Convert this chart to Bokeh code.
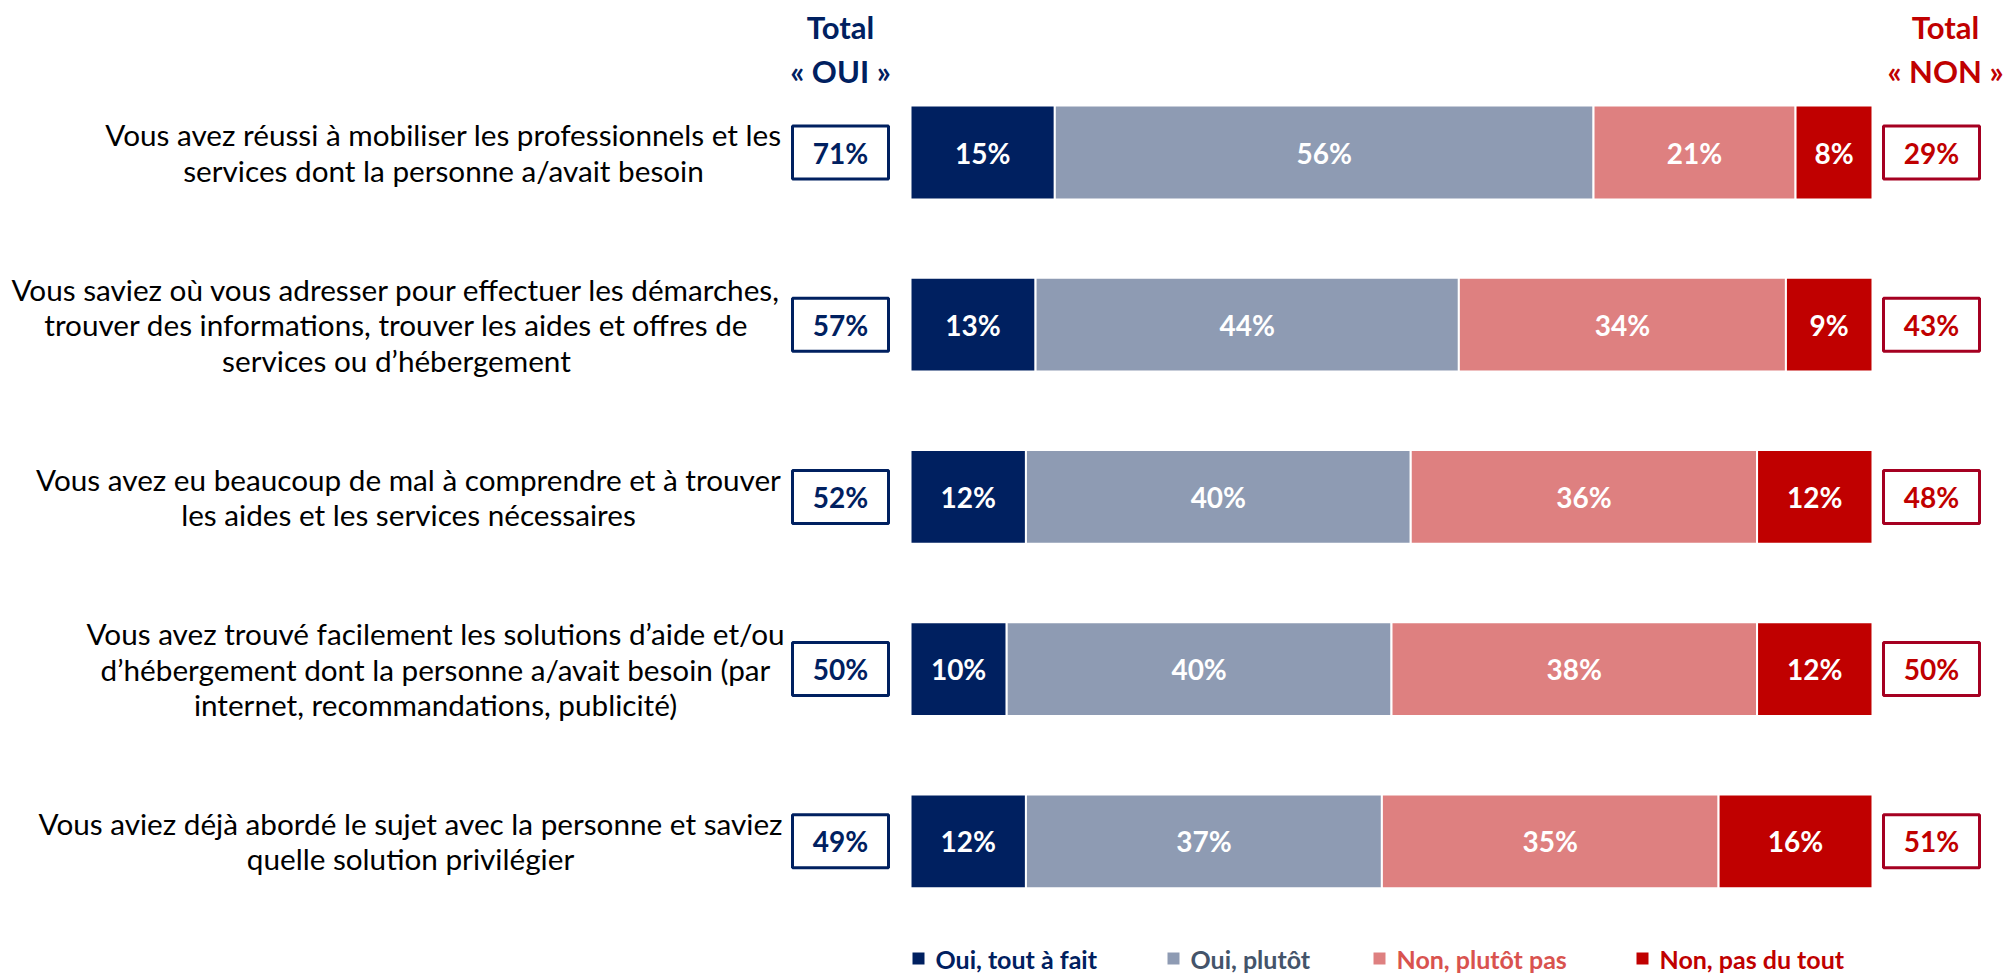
from bokeh.plotting import figure
from bokeh.models import Range1d, ColumnDataSource
from bokeh.core.properties import value
from bokeh.embed import file_html
from bokeh.resources import INLINE

questions = [
    "Vous avez réussi à mobiliser les professionnels et les\nservices dont la personne a/avait besoin",
    "Vous saviez où vous adresser pour effectuer les démarches,\ntrouver des informations, trouver les aides et offres de\nservices ou d\u2019hébergement",
    "Vous avez eu beaucoup de mal à comprendre et à trouver\nles aides et les services nécessaires",
    "Vous avez trouvé facilement les solutions d\u2019aide et/ou\nd\u2019hébergement dont la personne a/avait besoin (par\ninternet, recommandations, publicité)",
    "Vous aviez déjà abordé le sujet avec la personne et saviez\nquelle solution privilégier",
]
series_names = ["Oui, tout à fait", "Oui, plutôt", "Non, plutôt pas", "Non, pas du tout"]
oui_tout = [15, 13, 12, 10, 12]
oui_plutot = [56, 44, 40, 40, 37]
non_plutot = [21, 34, 36, 38, 35]
non_pas = [8, 9, 12, 12, 16]
total_oui = [71, 57, 52, 50, 49]
total_non = [29, 43, 48, 50, 51]

colors = ["#002060", "#8E9BB3", "#DE8080", "#C00000"]
legend_text_colors = ["#002060", "#44546A", "#D9534F", "#C00000"]
NAVY = "#002060"
RED = "#C00000"
FONT = "Lato"

W, H = 2011, 974
# page px -> data mapping: bar 0..100 spans page x 910..1872
px_per_unit = (1872 - 910) / 100.0
x0 = (0 - 910) / px_per_unit
x1 = (W - 910) / px_per_unit
row_px = 172.2
y_top = (0 - 152) / row_px
y_bot = (H - 152) / row_px

p = figure(width=W, height=H, output_backend="svg", toolbar_location=None,
           x_range=Range1d(x0, x1), y_range=Range1d(y_bot, y_top),
           min_border=0, outline_line_color=None)
p.axis.visible = False
p.grid.visible = False
p.background_fill_color = "white"
p.border_fill_color = "white"

rows = list(range(len(questions)))
series = [oui_tout, oui_plutot, non_plutot, non_pas]
left = [0.0] * len(rows)
for vals, col in zip(series, colors):
    right = [l + v for l, v in zip(left, vals)]
    src = ColumnDataSource(dict(y=rows, left=left, right=right,
                                mid=[(l + r) / 2 for l, r in zip(left, right)],
                                lab=[f"{v}%" for v in vals]))
    p.hbar(y="y", left="left", right="right", height=0.545, source=src,
           fill_color=col, line_color="white", line_width=2)
    p.text(x="mid", y="y", text="lab", source=src, text_color="white",
           text_font=value(FONT), text_font_style="bold", text_font_size="28px",
           text_align="center", text_baseline="middle")
    left = right

# question labels: block right edge at page x ~782, lines centred in block
label_center_px = [443, 396, 408, 435, 410]
p.text(x=[(c - 910) / px_per_unit for c in label_center_px], y=rows, text=questions,
       text_color="#000000", text_font=value(FONT), text_font_size="29.7px",
       text_align="center", text_baseline="middle", text_line_height=1.01)

# Total boxes
oui_x = (840 - 910) / px_per_unit
non_x = (1931 - 910) / px_per_unit
box_w = 96 / px_per_unit
box_h = 53 / row_px
p.rect(x=[oui_x] * len(rows), y=rows, width=box_w, height=box_h,
       fill_color="white", line_color=NAVY, line_width=3)
p.rect(x=[non_x] * len(rows), y=rows, width=box_w, height=box_h,
       fill_color="white", line_color="#A50021", line_width=3)
p.text(x=[oui_x] * len(rows), y=rows, text=[f"{v}%" for v in total_oui],
       text_color=NAVY, text_font=value(FONT), text_font_style="bold",
       text_font_size="28px", text_align="center", text_baseline="middle")
p.text(x=[non_x] * len(rows), y=rows, text=[f"{v}%" for v in total_non],
       text_color=RED, text_font=value(FONT), text_font_style="bold",
       text_font_size="28px", text_align="center", text_baseline="middle")

# headers
hy1 = (26 - 152) / row_px
hy2 = (70 - 152) / row_px
p.text(x=[oui_x, oui_x], y=[hy1, hy2], text=["Total", "\u00ab OUI \u00bb"],
       text_color=NAVY, text_font=value(FONT), text_font_style="bold",
       text_font_size="31px", text_align="center", text_baseline="middle")
nh_x = (1945 - 910) / px_per_unit
p.text(x=[nh_x, nh_x], y=[hy1, hy2], text=["Total", "\u00ab NON \u00bb"],
       text_color=RED, text_font=value(FONT), text_font_style="bold",
       text_font_size="31px", text_align="center", text_baseline="middle")

# legend
ly = (958 - 152) / row_px
sq_px = [918, 1173, 1379, 1642]
sq_x = [(s - 910) / px_per_unit for s in sq_px]
p.scatter(x=sq_x, y=[ly] * 4, marker="square", size=12,
          fill_color=colors, line_color=None)
p.text(x=[s + 17 / px_per_unit for s in sq_x], y=[ly] * 4, text=series_names,
       text_color=legend_text_colors, text_font=value(FONT),
       text_font_style="bold", text_font_size="25px",
       text_align="left", text_baseline="middle")

open("out.html", "w").write(file_html(p, INLINE))
